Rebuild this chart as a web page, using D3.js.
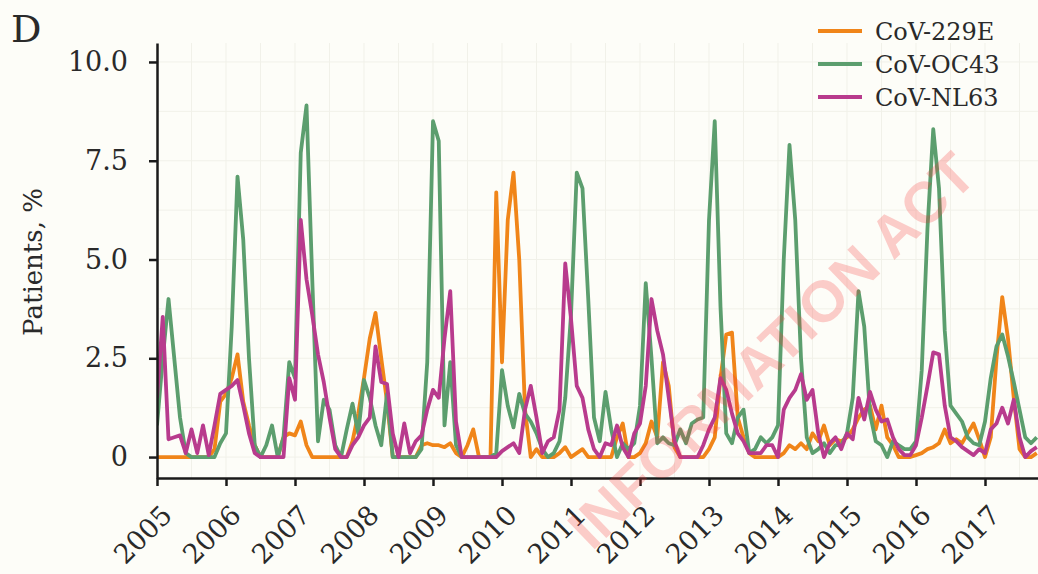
<!DOCTYPE html>
<html>
<head>
<meta charset="utf-8">
<script src="https://cdn.jsdelivr.net/npm/d3@7"></script>
<style>
  html, body { margin: 0; padding: 0; background: #fdfdf8; }
  svg { display: block; }
  text { font-family: "DejaVu Serif", serif; fill: #2a2a2a; }
  text.wm { font-family: "Liberation Sans", Arial, sans-serif; font-weight: bold; fill: rgba(245,50,50,0.24); }
</style>
</head>
<body>
<div id="chart"></div>
<script>
// ---------- data (monthly, % of patients) ----------
const startYear = 2005;
const yearTicks = [2005, 2006, 2007, 2008, 2009, 2010, 2011, 2012, 2013, 2014, 2015, 2016, 2017];
const yTicks = [0, 2.5, 5, 7.5, 10];
const seriesNames = ['CoV-229E', 'CoV-OC43', 'CoV-NL63'];
const seriesColors = ['#f08519', '#5c9e6e', '#b83b8d'];

const cov229E = [
  0, 0, 0, 0, 0, 0, 0, 0, 0, 0, 0.2, 1.4,
  1.6, 2.0, 2.6, 1.4, 0.8, 0.3, 0, 0, 0, 0, 0.5, 0.6,
  0.55, 0.9, 0.3, 0, 0, 0, 0, 0, 0, 0, 0.4, 1.1,
  2.0, 3.0, 3.65, 2.5, 1.4, 0, 0, 0, 0, 0, 0.3, 0.35,
  0.3, 0.3, 0.25, 0.35, 0.1, 0, 0.3, 0.7, 0, 0, 0, 6.7,
  2.4, 6.0, 7.2, 5.0, 1.2, 0, 0.2, 0, 0, 0, 0.1, 0.25,
  0, 0.1, 0.2, 0, 0, 0, 0, 0, 0.5, 0.85, 0, 0,
  0.1, 0.35, 0.9, 0.5, 2.4, 1.8, 0.25, 0, 0, 0, 0, 0,
  0.2, 0.5, 2.0, 3.1, 3.15, 1.0, 0.5, 0.1, 0, 0, 0, 0,
  0, 0.1, 0.3, 0.2, 0.35, 0.2, 0.6, 0.4, 0.8, 0.3, 0.45, 0.4,
  0.5, 0.7, 1.0, 1.2, 1.3, 0.7, 1.3, 0.5, 0.3, 0, 0, 0,
  0.05, 0.1, 0.2, 0.25, 0.35, 0.7, 0.35, 0.45, 0.35, 0.6, 0.85, 0.45,
  0, 0.5, 2.5, 4.05, 3.0, 1.5, 0.2, 0, 0, 0.1
];
const covOC43 = [
  0.8, 2.5, 4.0, 2.5, 1.0, 0.1, 0, 0, 0, 0, 0, 0.35,
  0.6, 3.3, 7.1, 5.5, 2.5, 0.3, 0, 0.3, 0.8, 0, 0.5, 2.4,
  2.0, 7.7, 8.9, 4.5, 0.4, 1.45, 1.2, 0.3, 0, 0.7, 1.35, 0.6,
  1.95, 1.5, 0.8, 0.3, 1.6, 0, 0, 0, 0, 0, 0.2, 2.4,
  8.5, 8.0, 0.8, 2.4, 0.3, 0, 0, 0, 0, 0, 0, 0.1,
  2.2, 1.3, 0.75, 1.6, 1.1, 0.9, 0.6, 0.2, 0, 0.1, 0.4, 1.5,
  3.6, 7.2, 6.8, 4.0, 1.0, 0.4, 1.65, 0.7, 0, 0.35, 0.2, 0.35,
  1.3, 4.4, 2.5, 0.35, 0.5, 0.35, 0.3, 0.7, 0.35, 0.85, 0.95, 1.0,
  6.0, 8.5, 3.8, 0.6, 0.35, 1.0, 1.2, 0.1, 0.2, 0.5, 0.35, 0.5,
  0.8, 5.0, 7.9, 6.0, 2.5, 0.5, 0.1, 0.2, 0.35, 0.1, 0.3, 0.3,
  0.6, 1.5, 4.2, 3.3, 1.1, 0.4, 0.3, 0, 0.4, 0.3, 0.2, 0.2,
  0.4, 2.2, 5.8, 8.3, 6.8, 3.2, 1.3, 1.1, 0.9, 0.5, 0.35, 0.3,
  0.9, 2.0, 2.8, 3.1, 2.55, 1.9, 1.2, 0.5, 0.35, 0.5
];
const covNL63 = [
  1.5, 3.55, 0.45, 0.5, 0.55, 0.1, 0.7, 0.1, 0.8, 0.05, 0.8, 1.6,
  1.7, 1.8, 1.95, 1.3, 0.6, 0.1, 0, 0, 0, 0, 0, 2.0,
  1.45, 6.0, 4.5, 3.6, 2.6, 1.9, 1.0, 0.2, 0, 0, 0.3, 0.5,
  0.8, 1.0, 2.8, 1.9, 1.85, 0.6, 0, 0.85, 0.1, 0.4, 0.55, 1.2,
  1.7, 1.5, 3.0, 4.2, 0.9, 0, 0, 0, 0, 0, 0, 0,
  0.15, 0.25, 0.35, 0.1, 1.2, 1.8, 1.0, 0.1, 0.4, 0.5, 1.2, 4.9,
  3.5, 1.8, 1.5, 0.7, 0.2, 0, 0.35, 0.3, 0.8, 0.25, 0, 0.6,
  0.85, 1.8, 4.0, 3.2, 2.6, 1.5, 0.4, 0, 0, 0, 0, 0.3,
  0.7, 1.0, 2.0, 1.7, 1.1, 0.6, 0.4, 0.1, 0.1, 0.1, 0.3, 0.3,
  0, 1.2, 1.5, 1.7, 2.1, 1.45, 1.7, 0.6, 0, 0.35, 0.5, 0.2,
  0.6, 0.45, 1.5, 0.95, 1.65, 1.2, 0.9, 0.95, 0.5, 0.2, 0.05, 0.05,
  0.3, 1.0, 1.8, 2.65, 2.6, 1.3, 0.5, 0.4, 0.25, 0.15, 0.05, 0.2,
  0.1, 0.7, 0.85, 1.25, 0.85, 1.45, 0.5, 0, 0.15, 0.25
];
const allSeries = [cov229E, covOC43, covNL63];

// ---------- layout ----------
const width = 1038, height = 574;
const plotLeft = 157, plotRight = 1038, plotTop = 43, plotBottom = 478;

const svg = d3.select('#chart').append('svg')
    .attr('width', width)
    .attr('height', height);

svg.append('rect').attr('width', width).attr('height', height).attr('fill', '#fdfdf8');

// 69 px per year, axis runs off the right edge
const x = d3.scaleLinear()
    .domain([startYear, startYear + (plotRight - plotLeft) / 69])
    .range([plotLeft, plotRight]);
const y = d3.scaleLinear()
    .domain([-0.53, 10.48])
    .range([plotBottom, plotTop]);

// faint grid
const grid = svg.append('g').attr('stroke', '#f1f1e9').attr('stroke-width', 1);
grid.selectAll('line.v')
    .data(d3.range(startYear + 0.5, x.domain()[1], 0.5))
    .enter().append('line')
    .attr('x1', d => x(d)).attr('x2', d => x(d))
    .attr('y1', plotTop).attr('y2', plotBottom);
grid.selectAll('line.h')
    .data(d3.range(0, 10.01, 1.25))
    .enter().append('line')
    .attr('x1', plotLeft).attr('x2', plotRight)
    .attr('y1', d => y(d)).attr('y2', d => y(d));

// lines
const line = d3.line()
    .x((d, i) => x(startYear + i / 12))
    .y(d => y(d));

svg.append('defs').append('clipPath').attr('id', 'plot')
    .append('rect').attr('x', plotLeft).attr('y', 0).attr('width', plotRight - plotLeft).attr('height', plotBottom);

svg.append('g').attr('clip-path', 'url(#plot)')
    .selectAll('path')
    .data(allSeries)
    .enter().append('path')
    .attr('d', line)
    .attr('fill', 'none')
    .attr('stroke', (d, i) => seriesColors[i])
    .attr('stroke-width', 3.8)
    .attr('stroke-linejoin', 'round');

// axes
const yAxis = svg.append('g')
    .attr('transform', `translate(${plotLeft},0)`)
    .call(d3.axisLeft(y)
        .tickValues(yTicks)
        .tickFormat(d => d === 0 ? '0' : d3.format('.1f')(d))
        .tickSize(8)
        .tickSizeOuter(0)
        .tickPadding(21));

const xAxis = svg.append('g')
    .attr('transform', `translate(0,${plotBottom})`)
    .call(d3.axisBottom(x)
        .tickValues(yearTicks)
        .tickFormat(d3.format('d'))
        .tickSize(8)
        .tickSizeOuter(0));

[yAxis, xAxis].forEach(g => {
    g.select('.domain').attr('stroke', '#1a1a1a').attr('stroke-width', 2.5);
    g.selectAll('.tick line').attr('stroke', '#1a1a1a').attr('stroke-width', 2.5);
    g.selectAll('.tick text')
        .style('font-family', '"DejaVu Serif", serif')
        .style('font-size', '27px')
        .attr('fill', '#2a2a2a');
});

xAxis.selectAll('.tick text')
    .attr('text-anchor', 'end')
    .attr('x', -16)
    .attr('y', 39)
    .attr('dy', 0)
    .attr('transform', 'rotate(-45)');

// y label
svg.append('text')
    .attr('transform', 'translate(42,262) rotate(-90)')
    .attr('text-anchor', 'middle')
    .style('font-size', '26px')
    .text('Patients, %');

// panel letter
svg.append('text')
    .attr('x', 11)
    .attr('y', 42)
    .style('font-size', '38px')
    .text('D');

// legend
const legend = svg.append('g').attr('transform', 'translate(818,31)');
seriesNames.forEach((name, i) => {
    const row = legend.append('g').attr('transform', `translate(0,${i * 33})`);
    row.append('line')
        .attr('x1', 0).attr('x2', 44)
        .attr('stroke', seriesColors[i])
        .attr('stroke-width', 4);
    row.append('text')
        .attr('x', 57)
        .attr('dy', '0.36em')
        .style('font-size', '24px')
        .text(name);
});

// watermark
svg.append('text')
    .attr('class', 'wm')
    .attr('transform', 'translate(592,552) rotate(-44)')
    .style('font-size', '58px')
    .text('INFORMATION ACT');
</script>
</body>
</html>
